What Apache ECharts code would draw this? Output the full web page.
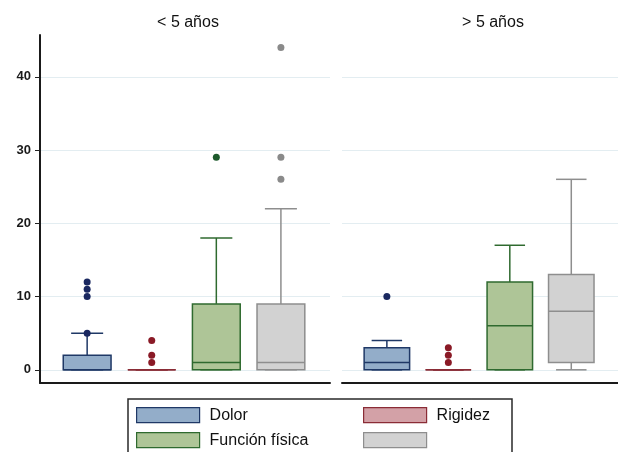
<!DOCTYPE html>
<html>
<head>
<meta charset="utf-8">
<script src="https://cdn.jsdelivr.net/npm/echarts@6/dist/echarts.min.js"></script>
<style>
    html, body { margin: 0; padding: 0; background: #fff; }
    #chart { width: 618px; height: 452px; }
</style>
</head>
<body>
<div id="chart"></div>
<script>
    // variables (the 4th one has no label in the original legend)
    var categories = ['Dolor', 'Rigidez', 'Función física', ' '];
    var groups = ['< 5 años', '> 5 años'];
    // [min, q1, median, q3, max] per variable
    var boxesMenos5 = [[0, 0, 0, 2, 5], [0, 0, 0, 0, 0], [0, 0, 1, 9, 18], [0, 0, 1, 9, 22]];
    var boxesMas5 = [[0, 0, 1, 3, 4], [0, 0, 0, 0, 0], [0, 0, 6, 12, 17], [0, 1, 8, 13, 26]];
    var outliersMenos5 = [[5, 10, 11, 12], [1, 2, 4], [29], [26, 29, 44]];
    var outliersMas5 = [[10], [1, 2, 3], [], []];
    var yTicks = [0, 10, 20, 30, 40];

    var fills = ['#93adc9', '#d3a1a7', '#aec597', '#d2d2d2'];
    var strokes = ['#1f3866', '#8a2c36', '#2f6a2f', '#8e8e8e'];
    var dots = ['#1a2860', '#8a1a26', '#1d5a2c', '#8a8a8a'];
    var font = "'Liberation Sans', Arial, sans-serif";

    function renderBox(fill, stroke) {
        return function (params, api) {
            var x = api.value(0);
            var pMin = api.coord([x, api.value(1)]);
            var pQ1 = api.coord([x, api.value(2)]);
            var pMed = api.coord([x, api.value(3)]);
            var pQ3 = api.coord([x, api.value(4)]);
            var pMax = api.coord([x, api.value(5)]);
            var cx = pQ1[0];
            var hw = api.size([1, 0])[0] * 0.37;
            var cw = hw * 0.67;
            var ls = {stroke: stroke, lineWidth: 1.5};
            return {
                type: 'group',
                children: [
                    {type: 'line', shape: {x1: cx, y1: pQ3[1], x2: cx, y2: pMax[1]}, style: ls},
                    {type: 'line', shape: {x1: cx - cw, y1: pMax[1], x2: cx + cw, y2: pMax[1]}, style: ls},
                    {type: 'line', shape: {x1: cx, y1: pQ1[1], x2: cx, y2: pMin[1]}, style: ls},
                    {type: 'line', shape: {x1: cx - cw, y1: pMin[1], x2: cx + cw, y2: pMin[1]}, style: ls},
                    {type: 'rect', shape: {x: cx - hw, y: pQ3[1], width: 2 * hw, height: pQ1[1] - pQ3[1]},
                        style: {fill: fill, stroke: stroke, lineWidth: 1.5}},
                    {type: 'line', shape: {x1: cx - hw, y1: pMed[1], x2: cx + hw, y2: pMed[1]}, style: ls}
                ]
            };
        };
    }

    var series = [];
    [boxesMenos5, boxesMas5].forEach(function (boxes, g) {
        var outs = g === 0 ? outliersMenos5 : outliersMas5;
        categories.forEach(function (name, i) {
            series.push({
                type: 'custom',
                name: name,
                xAxisIndex: g,
                yAxisIndex: g,
                itemStyle: {color: fills[i], borderColor: strokes[i]},
                renderItem: renderBox(fills[i], strokes[i]),
                encode: {x: 0, y: [1, 2, 3, 4, 5]},
                data: [[i + 1].concat(boxes[i])]
            });
            series.push({
                type: 'scatter',
                name: name,
                xAxisIndex: g,
                yAxisIndex: g,
                symbolSize: 7,
                itemStyle: {color: dots[i], opacity: 1},
                data: outs[i].map(function (v) { return [i + 1, v]; }),
                z: 3
            });
        });
    });

    var legendPos = [[136, 407], [363, 407], [136, 432], [363, 432]];
    var legends = categories.map(function (name, i) {
        return {
            left: legendPos[i][0],
            top: legendPos[i][1],
            padding: 0,
            itemWidth: 63,
            itemHeight: 15,
            selectedMode: false,
            textStyle: {fontFamily: font, fontSize: 16, color: '#111', padding: [0, 0, 0, 5]},
            data: [{name: name, icon: 'rect', itemStyle: {color: fills[i], borderColor: strokes[i], borderWidth: 1.2}}]
        };
    });

    function yAxis(idx) {
        return {
            type: 'value',
            gridIndex: idx,
            min: -1.8,
            max: 45.7,
            axisLine: {show: idx === 0, lineStyle: {color: '#1a1a1a', width: 2}},
            axisTick: {show: idx === 0, length: 5, customValues: yTicks, lineStyle: {color: '#222'}},
            axisLabel: {show: idx === 0, customValues: yTicks, margin: 9, fontFamily: font,
                fontSize: 13, fontWeight: 'bold', color: '#1a1a1a'},
            splitLine: {show: true, lineStyle: {color: '#e3edf1', width: 1}}
        };
    }

    function xAxis(idx) {
        return {
            type: 'value',
            gridIndex: idx,
            min: 0.27,
            max: 4.76,
            axisLine: {show: true, onZero: false, lineStyle: {color: '#1a1a1a', width: 2}},
            axisTick: {show: false},
            axisLabel: {show: false},
            splitLine: {show: false}
        };
    }

    var myChart = echarts.init(document.getElementById('chart'));
    var option = {
        animation: false,
        title: [
            {text: groups[0], left: 183, top: 10, textAlign: 'center',
                textStyle: {fontFamily: font, fontSize: 16, fontWeight: 'normal', color: '#111'}},
            {text: groups[1], left: 488, top: 10, textAlign: 'center',
                textStyle: {fontFamily: font, fontSize: 16, fontWeight: 'normal', color: '#111'}}
        ],
        grid: [
            {left: 40, top: 35, width: 290, height: 348},
            {left: 342, top: 35, width: 292, height: 348}
        ],
        xAxis: [xAxis(0), xAxis(1)],
        yAxis: [yAxis(0), yAxis(1)],
        legend: legends,
        graphic: [{
            type: 'rect',
            shape: {x: 128, y: 399, width: 384, height: 70},
            style: {fill: 'none', stroke: '#2a2a2a', lineWidth: 1.5},
            silent: true
        }],
        series: series
    };
    myChart.setOption(option);
</script>
</body>
</html>
